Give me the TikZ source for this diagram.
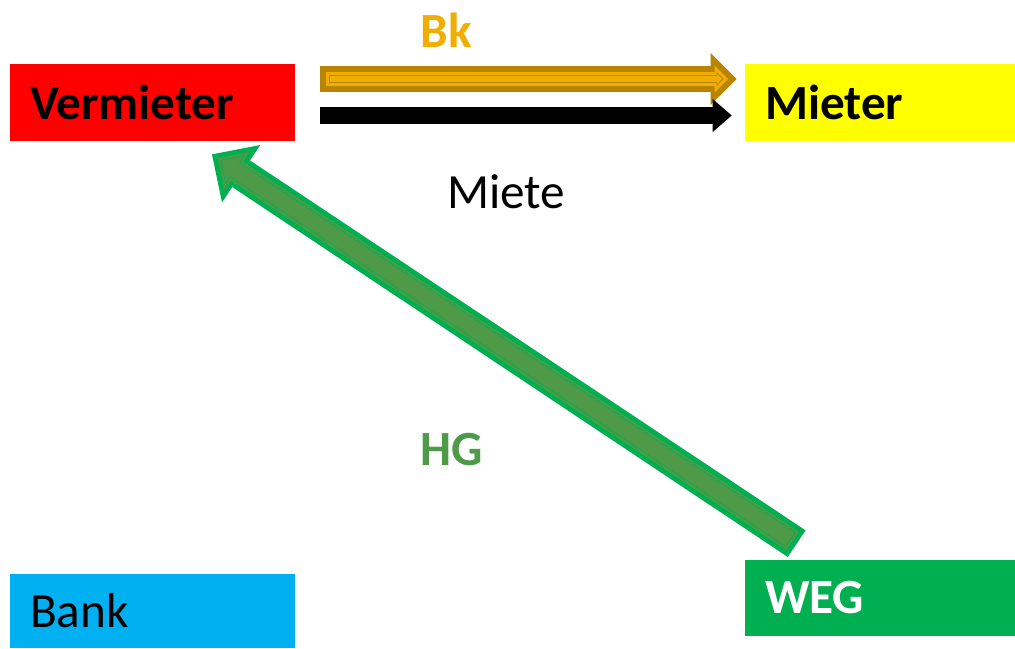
\documentclass[tikz,border=0pt]{standalone}
\usepackage{fontspec}
\setmainfont{Carlito}
\usetikzlibrary{arrows.meta}

\definecolor{vmred}{HTML}{FF0000}
\definecolor{mtyellow}{HTML}{FFFF00}
\definecolor{bankblue}{HTML}{00B0F0}
\definecolor{weggreen}{HTML}{00B050}
\definecolor{hgolive}{HTML}{4E9A48}
\definecolor{bkgold}{HTML}{F0AE00}
\definecolor{bkdark}{HTML}{BA8400}

\tikzset{
  box/.style={minimum height=#1, inner xsep=0.4cm, align=left, anchor=center,
    font=\fontsize{28}{34}\selectfont},
  blockarrow/.style n args={4}{draw=#1, line width=#2,
    -{Triangle[length=#3, width=#4, line width=0pt]}},
  lbl/.style={font=\fontsize{28}{34}\selectfont}
}

\begin{document}
\begin{tikzpicture}[x=0.02cm, y=-0.02cm]
\useasboundingbox (0,0) rectangle (1015,649);

% the four parties
\node[box=1.54cm, fill=vmred, text width=4.9cm] (verm) at (152.5,102.5) {\bfseries Vermieter};
\node[box=1.54cm, fill=mtyellow, text width=4.6cm] (mieter) at (880,102.5) {\bfseries Mieter};
\node[box=1.48cm, fill=bankblue, text width=4.9cm] (bank) at (152.5,611) {Bank};
\node[box=1.52cm, fill=weggreen, text width=4.6cm, text=white] (weg) at (880,598) {\bfseries WEG};

% arrow ends
\coordinate (bk-s) at ([shift={(0.5cm,0.47cm)}]verm.east);
\coordinate (bk-e) at ([shift={(-0.16cm,0.47cm)}]mieter.west);
\coordinate (mi-s) at ([shift={(0.5cm,-0.26cm)}]verm.east);
\coordinate (mi-e) at ([shift={(-0.26cm,-0.26cm)}]mieter.west);
\coordinate (hg-s) at ([shift={(1.04cm,0.32cm)}]weg.north west);
\coordinate (hg-e) at ([shift={(1.19cm,-0.26cm)}]verm.south);

% Bk: Vermieter -> Mieter
\draw[blockarrow={bkdark}{0.52cm}{0.52cm}{1.04cm}] (bk-s) -- (bk-e);
\draw[blockarrow={bkgold}{0.28cm}{0.27cm}{0.54cm}, shorten <=0.12cm, shorten >=0.17cm] (bk-s) -- (bk-e);
\draw[blockarrow={bkdark}{0.16cm}{0.14cm}{0.28cm}, shorten <=0.18cm, shorten >=0.26cm] (bk-s) -- (bk-e);
\draw[blockarrow={bkgold}{0.12cm}{0.10cm}{0.20cm}, shorten <=0.20cm, shorten >=0.29cm] (bk-s) -- (bk-e);

% Miete: Vermieter -> Mieter
\draw[blockarrow={black}{0.34cm}{0.38cm}{0.66cm}] (mi-s) -- (mi-e);

% HG: WEG -> Vermieter
\draw[blockarrow={weggreen}{0.64cm}{0.70cm}{1.38cm}] (hg-s) -- (hg-e);
\draw[blockarrow={hgolive}{0.44cm}{0.46cm}{0.90cm}, shorten <=0.10cm, shorten >=0.14cm] (hg-s) -- (hg-e);
\draw[blockarrow={weggreen!80!hgolive}{0.36cm}{0.36cm}{0.71cm}, shorten <=0.14cm, shorten >=0.20cm] (hg-s) -- (hg-e);
\draw[blockarrow={hgolive}{0.32cm}{0.31cm}{0.62cm}, shorten <=0.16cm, shorten >=0.23cm] (hg-s) -- (hg-e);

% labels
\node[lbl, text=bkgold] (bk) at (446,30) {\bfseries Bk};
\node[lbl] (miete) at (506,192) {Miete};
\node[lbl, text=hgolive] (hg) at (452,450) {\bfseries HG};
\end{tikzpicture}
\end{document}
